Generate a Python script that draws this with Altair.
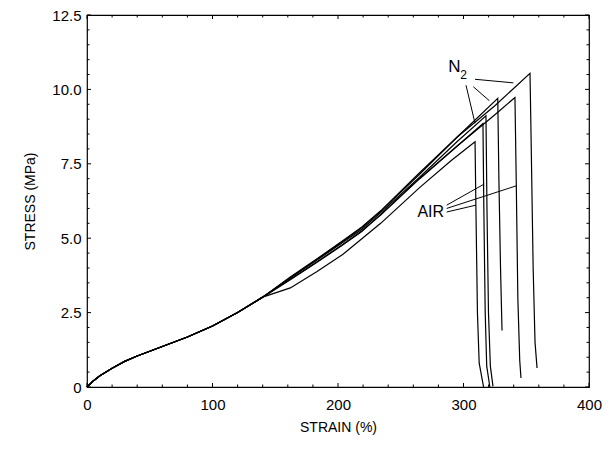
import altair as alt
import pandas as pd

# ---------------- data ----------------
base_strain = [0, 5, 10, 20, 30, 40, 50, 60, 80, 100, 120, 140]
base_stress = [0, 0.2, 0.37, 0.63, 0.86, 1.04, 1.2, 1.36, 1.68, 2.05, 2.5, 3.02]
mid_strain = [162, 183, 204, 219, 234]

# N2 samples
E_mid = [3.7, 4.3, 4.92, 5.38, 5.92]
E_tail_strain = [265, 295, 325, 353, 354, 355.5, 357, 358.6]
E_tail_stress = [7.2, 8.4, 9.45, 10.54, 8.0, 4.0, 1.5, 0.64]

C_mid = [3.68, 4.28, 4.9, 5.35, 5.9]
C_tail_strain = [265, 295, 327.3, 328.2, 329.5, 330.7]
C_tail_stress = [7.15, 8.4, 9.70, 7.0, 4.0, 1.9]

B_mid = [3.66, 4.26, 4.86, 5.3, 5.86]
B_tail_strain = [265, 295, 317.9, 318.7, 319.9, 321.4, 323.5]
B_tail_stress = [7.05, 8.25, 9.11, 6.0, 2.5, 0.7, 0.02]

# AIR samples
D_mid = [3.62, 4.2, 4.8, 5.25, 5.78]
D_tail_strain = [265, 295, 325, 341, 342, 343.3, 344.8, 345.8]
D_tail_stress = [7.0, 8.1, 9.15, 9.73, 7.0, 3.0, 0.9, 0.3]

F_mid = [3.6, 4.18, 4.78, 5.22, 5.8]
F_tail_strain = [265, 295, 315.5, 316.2, 317.3, 318.5, 321]
F_tail_stress = [7.0, 8.1, 8.85, 6.0, 2.5, 0.7, 0.0]

A_mid = [3.33, 3.87, 4.46, 4.98, 5.5]
A_tail_strain = [265, 290, 309.2, 309.9, 311.1, 312.5, 316]
A_tail_stress = [6.7, 7.6, 8.24, 6.0, 2.5, 0.8, 0.0]

# annotation pointer lines (strain, stress -> strain, stress)
ptr_x1 = [302.0, 307.8, 309.2, 286.6, 286.6, 286.6]
ptr_y1 = [10.14, 10.09, 10.34, 6.11, 6.0, 5.88]
ptr_x2 = [309.2, 320.6, 339.7, 316.5, 342.1, 309.9]
ptr_y2 = [8.86, 9.62, 10.22, 6.82, 6.76, 6.11]

x_major = [0, 100, 200, 300, 400]
x_minor = [v for v in range(20, 400, 20) if v % 100 != 0]
y_major = [0, 2.5, 5.0, 7.5, 10.0, 12.5]
y_minor = [v / 2 for v in range(1, 25) if v % 5 != 0]

label_text = ["N", "2", "AIR"]
label_x = [292.8, 300.0, 273.9]
label_y = [10.75, 10.48, 5.87]
label_size = [17, 12, 16]

# ---------------- build table ----------------
curves = {
    "E": (E_mid, E_tail_strain, E_tail_stress),
    "C": (C_mid, C_tail_strain, C_tail_stress),
    "B": (B_mid, B_tail_strain, B_tail_stress),
    "D": (D_mid, D_tail_strain, D_tail_stress),
    "F": (F_mid, F_tail_strain, F_tail_stress),
    "A": (A_mid, A_tail_strain, A_tail_stress),
}
rows = []
for name, (mid, ts, tv) in curves.items():
    xs = base_strain + mid_strain + ts
    ys = base_stress + mid + tv
    for i, (x, y) in enumerate(zip(xs, ys)):
        rows.append({"strain": x, "stress": y, "curve": name, "ord": i})
df = pd.DataFrame(rows)

ptr = pd.DataFrame({"x1": ptr_x1, "y1": ptr_y1, "x2": ptr_x2, "y2": ptr_y2})
lab = pd.DataFrame({"t": label_text, "x": label_x, "y": label_y, "s": label_size})

W, H = 502, 372
FONT = "Liberation Sans"

xscale = alt.Scale(domain=[0, 400], nice=False, zero=False)
yscale = alt.Scale(domain=[0, 12.5], nice=False, zero=False)

lines = alt.Chart(df).mark_line(color="black", strokeWidth=1.2).encode(
    x=alt.X("strain:Q", scale=xscale, title="STRAIN (%)",
            axis=alt.Axis(values=x_major, ticks=False, domain=False, grid=False,
                          labelPadding=10, labelFontSize=15, labelFont=FONT,
                          labelColor="black", titleFont=FONT, titleFontSize=14,
                          titleFontWeight="normal", titleColor="black",
                          titleY=40, titleBaseline="middle", labelFlush=False)),
    y=alt.Y("stress:Q", scale=yscale, title="STRESS (MPa)",
            axis=alt.Axis(values=y_major, ticks=False, domain=False, grid=False,
                          labelPadding=6, labelFontSize=15, labelFont=FONT,
                          labelColor="black", titleFont=FONT, titleFontSize=14,
                          titleFontWeight="normal", titleColor="black",
                          labelExpr="datum.value == 0 ? '0' : format(datum.value, '.1f')",
                          titleX=-57, titleY=H / 2, titleAngle=-90,
                          titleAlign="center", titleBaseline="middle", labelFlush=False)),
    detail="curve:N",
    order="ord:Q",
)

pointers = alt.Chart(ptr).mark_rule(color="black", strokeWidth=1).encode(
    x=alt.X("x1:Q", scale=xscale), y=alt.Y("y1:Q", scale=yscale),
    x2="x2:Q", y2="y2:Q",
)

labels = alt.Chart(lab).mark_text(font=FONT, color="black", align="center",
                                  baseline="middle").encode(
    x=alt.X("x:Q", scale=xscale), y=alt.Y("y:Q", scale=yscale), text="t:N",
    size=alt.Size("s:Q", scale=None, legend=None),
)

def xticks(vals, L):
    d = pd.DataFrame({"v": vals})
    bot = alt.Chart(d).mark_rule(color="black", strokeWidth=1).encode(
        x=alt.X("v:Q", scale=xscale), y=alt.value(H), y2=alt.value(H - L))
    top = alt.Chart(d).mark_rule(color="black", strokeWidth=1).encode(
        x=alt.X("v:Q", scale=xscale), y=alt.value(0), y2=alt.value(L))
    return bot + top

def yticks(vals, L):
    d = pd.DataFrame({"v": vals})
    left = alt.Chart(d).mark_rule(color="black", strokeWidth=1).encode(
        y=alt.Y("v:Q", scale=yscale), x=alt.value(0), x2=alt.value(L))
    right = alt.Chart(d).mark_rule(color="black", strokeWidth=1).encode(
        y=alt.Y("v:Q", scale=yscale), x=alt.value(W), x2=alt.value(W - L))
    return left + right

chart = alt.layer(
    lines, pointers, labels,
    xticks(x_major, 4), xticks(x_minor, 2.5),
    yticks(y_major, 4), yticks(y_minor, 2.5),
).properties(
    width=W, height=H,
    autosize=alt.AutoSizeParams(type="none"),
    padding={"left": 79, "top": 7, "right": 15, "bottom": 50},
    background="white",
).configure_view(stroke="black", strokeWidth=1.2)

chart.save("out.html", embed_options={"renderer": "svg", "actions": False})
